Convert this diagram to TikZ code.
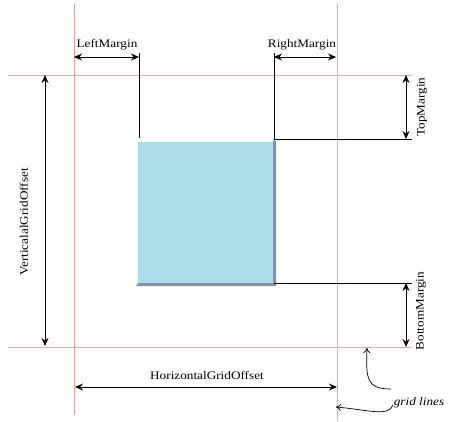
\documentclass[tikz,border=0pt]{standalone}
\usepackage{fontspec}
\setmainfont{Liberation Serif}[FakeStretch=1.15]
\usetikzlibrary{arrows.meta}
\definecolor{gridred}{HTML}{FF9090}
\definecolor{gridpink}{HTML}{E8A8A8}
\definecolor{boxblue}{HTML}{ADDDE8}
\definecolor{shadowblue}{HTML}{7A96A8}
\tikzset{
  gridline/.style={gridpink, line width=1pt},
  redline/.style={gridred, line width=1pt},
  edgeline/.style={black, line width=0.9pt},
  dim/.style={black, line width=0.9pt, {Stealth[length=8pt,width=7pt]}-{Stealth[length=8pt,width=7pt]}},
  lbl/.style={font=\fontsize{11.5}{12}\selectfont, inner sep=0pt},
  note/.style={black, line width=0.7pt, -{To[length=5pt,width=7pt]}},
}
\begin{document}
\begin{tikzpicture}[x=1pt,y=-1pt]
\useasboundingbox (0,0) rectangle (449,421);
% grid lines
\draw[gridline] (8,75) -- (412,75);
\draw[gridline] (8,347) -- (412,347);
\draw[gridline] (337,4) -- (337,421);
\draw[redline] (74,4) -- (74,415);
% box with shadow
\fill[shadowblue] (273,140) -- (276,141) -- (276,286) -- (136,286) -- (138,283) -- (273,283) -- cycle;
\fill[boxblue] (138,142) rectangle (273,283);
% coordinates
\coordinate (lm1) at (74,57);
\coordinate (lm2) at (139,57);
\coordinate (rm1) at (274,57);
\coordinate (rm2) at (336,57);
\coordinate (tm1) at (406,75);
\coordinate (tm2) at (406,139);
\coordinate (bm1) at (406,283);
\coordinate (bm2) at (406,347);
\coordinate (vg1) at (45,75);
\coordinate (vg2) at (45,346);
\coordinate (hg1) at (75,387);
\coordinate (hg2) at (337,387);
% black edge lines
\draw[edgeline] (139,53) -- (139,138);
\draw[edgeline] (274,53) -- (274,139) -- (412,139);
\draw[edgeline] (274,283) -- (412,283);
% dimension arrows
\draw[dim] (lm1) -- (lm2);
\draw[dim] (rm1) -- (rm2);
\draw[dim] (tm1) -- (tm2);
\draw[dim] (bm1) -- (bm2);
\draw[dim] (vg1) -- (vg2);
\draw[dim] (hg1) -- (hg2);
% labels
\node[lbl] (lml) at (107,45) {LeftMargin};
\node[lbl] (rml) at (302,45) {RightMargin};
\node[lbl, rotate=90] (tml) at (422,107) {TopMargin};
\node[lbl, rotate=90] (bml) at (421,311) {BottomMargin};
\node[lbl, rotate=90] (vgl) at (24,222) {VerticalalGridOffset};
\node[lbl] (hgl) at (207,375) {HorizontalGridOffset};
\node[lbl, font=\fontsize{11.5}{12}\selectfont\itshape] (gl) at (419,403) {grid lines};
% note arrows
\coordinate (s1) at (391,389);
\coordinate (s2) at (393,405);
\coordinate (t1) at (367,348);
\coordinate (t2) at (336,407);
\draw[note] (s1) .. controls (366,389) and (366,378) .. (t1);
\draw[note] (s2) .. controls (388,417) and (370,410) .. (t2);
\end{tikzpicture}
\end{document}
